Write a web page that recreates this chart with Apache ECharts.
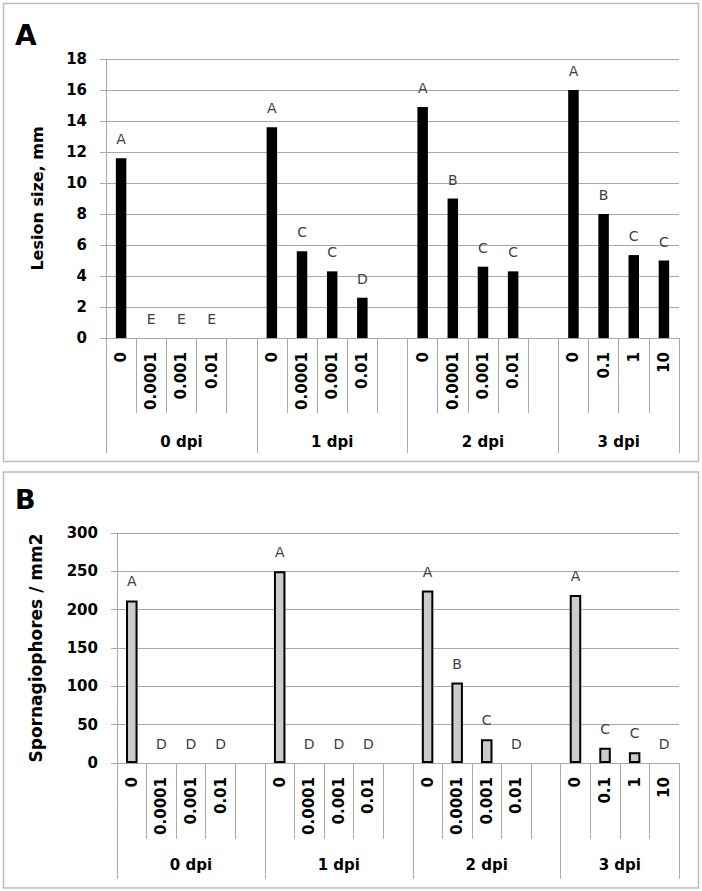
<!DOCTYPE html>
<html>
<head>
<meta charset="utf-8">
<script src="https://cdn.jsdelivr.net/npm/echarts@6/dist/echarts.min.js"></script>
<style>
  html, body { margin: 0; padding: 0; background: #fff; }
  #chart { width: 702px; height: 891px; }
</style>
</head>
<body>
<div id="chart"></div>
<script>
// ---- data ----
const catLabels = ['0','0.0001','0.001','0.01','', '0','0.0001','0.001','0.01','', '0','0.0001','0.001','0.01','', '0','0.1','1','10'];
const groupLabels = ['0 dpi','1 dpi','2 dpi','3 dpi'];
const groupSizes = [5, 5, 5, 4];
const lesionSize = [11.6,0,0,0,null, 13.6,5.6,4.3,2.6,null, 14.9,9.0,4.6,4.3,null, 16.0,8.0,5.35,5.0];
const lesionLetters = ['A','E','E','E','', 'A','C','C','D','', 'A','B','C','C','', 'A','B','C','C'];
const sporangiophores = [212,0,0,0,null, 250,0,0,0,null, 225,105,31,0,null, 219,20,14,0];
const sporLetters = ['A','D','D','D','', 'A','D','D','D','', 'A','B','C','D','', 'A','C','C','D'];
const yTicksA = { min: 0, max: 18, interval: 2 };
const yTicksB = { min: 0, max: 300, interval: 50 };

// ---- derived group boundaries / centers ----
const bounds = [0];
groupSizes.forEach(s => bounds.push(bounds[bounds.length - 1] + s));
const centers = groupSizes.map((s, i) => bounds[i] + s / 2);
const nCat = catLabels.length;

const FONT = 'DejaVu Sans';
const GRID_COL = '#a9a9a9';

function catAxis(gridIndex, tickLen) {
  return {
    type: 'category', gridIndex: gridIndex,
    data: catLabels.map((c, i) => String(i)),
    boundaryGap: true,
    axisLine: { show: true, lineStyle: { color: GRID_COL, width: 1 } },
    axisTick: { show: true, interval: 0, length: tickLen, lineStyle: { color: GRID_COL, width: 1 } },
    axisLabel: {
      interval: 0, rotate: 90, margin: 14,
      fontFamily: FONT, fontWeight: 'bold', fontSize: 15, color: '#000',
      formatter: v => catLabels[+v]
    },
    splitLine: { show: false }
  };
}
function groupAxis(gridIndex, tickLen, labelMargin) {
  return {
    type: 'value', gridIndex: gridIndex, position: 'bottom',
    min: 0, max: nCat,
    axisLine: { show: false },
    axisTick: { show: true, customValues: bounds, length: tickLen, lineStyle: { color: GRID_COL, width: 1 } },
    axisLabel: {
      show: true, customValues: centers, margin: labelMargin,
      fontFamily: FONT, fontWeight: 'bold', fontSize: 15, color: '#000',
      formatter: v => {
        const idx = centers.findIndex(c => Math.abs(c - v) < 1e-6);
        return idx >= 0 ? groupLabels[idx] : '';
      }
    },
    splitLine: { show: false }
  };
}
function valAxis(gridIndex, ticks, name, nameGap, nameSize) {
  return {
    type: 'value', gridIndex: gridIndex,
    min: ticks.min, max: ticks.max, interval: ticks.interval,
    name: name, nameLocation: 'middle', nameGap: nameGap,
    nameTextStyle: { fontFamily: FONT, fontWeight: 'bold', fontSize: nameSize, color: '#000' },
    axisLine: { show: true, lineStyle: { color: GRID_COL, width: 1 } },
    axisTick: { show: true, length: 6, lineStyle: { color: GRID_COL, width: 1 } },
    axisLabel: { margin: 19, fontFamily: FONT, fontWeight: 'bold', fontSize: 15, color: '#000' },
    splitLine: { show: true, lineStyle: { color: GRID_COL, width: 1 } }
  };
}

const chart = echarts.init(document.getElementById('chart'), null, { renderer: 'svg' });
chart.setOption({
  animation: false,
  backgroundColor: '#fff',
  graphic: [
    { type: 'rect', shape: { x: 3.5, y: 3.5, width: 695, height: 458 }, style: { fill: 'none', stroke: '#bdbdbd', lineWidth: 1.5 }, silent: true },
    { type: 'rect', shape: { x: 3.5, y: 472, width: 695, height: 416 }, style: { fill: 'none', stroke: '#bdbdbd', lineWidth: 1.5 }, silent: true },
    { type: 'text', left: 15, top: 21, style: { text: 'A', fontFamily: FONT, fontWeight: 'bold', fontSize: 28, fill: '#000' } },
    { type: 'text', left: 15, top: 486, style: { text: 'B', fontFamily: FONT, fontWeight: 'bold', fontSize: 27, fill: '#000' } }
  ],
  grid: [
    { left: 106, top: 59, width: 573, height: 279 },
    { left: 117, top: 533, width: 562, height: 230 }
  ],
  xAxis: [
    catAxis(0, 75),
    groupAxis(0, 115, 96),
    catAxis(1, 76),
    groupAxis(1, 116, 94)
  ],
  yAxis: [
    valAxis(0, yTicksA, 'Lesion size, mm', 61, 16),
    valAxis(1, yTicksB, 'Spornagiophores / mm2', 73, 17)
  ],
  series: [
    {
      type: 'bar', xAxisIndex: 0, yAxisIndex: 0,
      data: lesionSize,
      barWidth: 10.5,
      itemStyle: { color: '#000' },
      label: {
        show: true, position: 'top', distance: 12,
        fontFamily: FONT, fontSize: 14, color: '#404040',
        formatter: p => lesionLetters[p.dataIndex]
      }
    },
    {
      type: 'bar', xAxisIndex: 2, yAxisIndex: 1,
      data: sporangiophores.map(v => v === 0 ? { value: 0, itemStyle: { borderWidth: 0 } } : v),
      barWidth: 11.5,
      itemStyle: { color: '#cbcbcb', borderColor: '#000', borderWidth: 2 },
      label: {
        show: true, position: 'top', distance: 12,
        fontFamily: FONT, fontSize: 14, color: '#404040',
        formatter: p => sporLetters[p.dataIndex]
      }
    }
  ]
});
</script>
</body>
</html>
